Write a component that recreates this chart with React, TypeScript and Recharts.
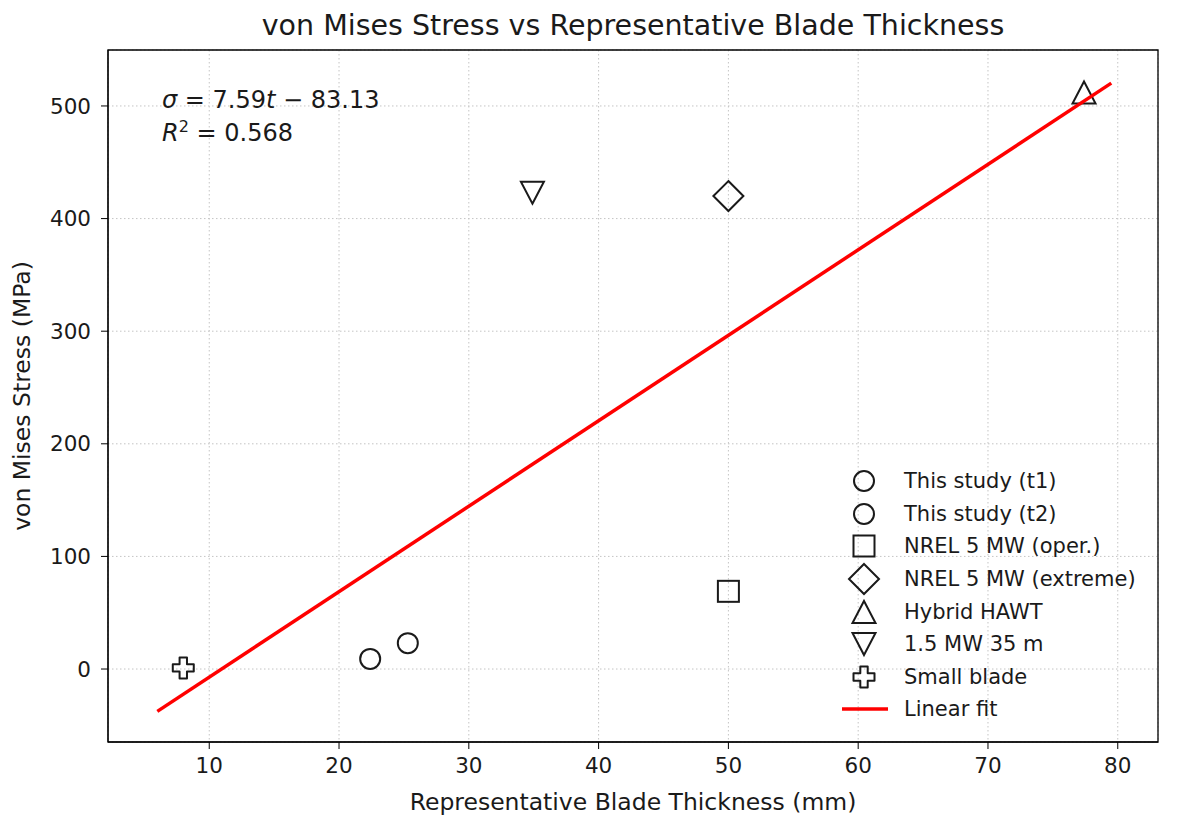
import React from 'react';
import { ScatterChart, Scatter, XAxis, YAxis, CartesianGrid, ReferenceArea, Legend } from 'recharts';

// thickness (mm) vs von Mises stress (MPa)
const studyT1 = [{ x: 22.4, y: 9 }];
const studyT2 = [{ x: 25.3, y: 23 }];
const nrelOper = [{ x: 50, y: 69 }];
const nrelExtreme = [{ x: 50, y: 420 }];
const hybridHawt = [{ x: 77.4, y: 512 }];
const mw15 = [{ x: 34.9, y: 423 }];
const smallBlade = [{ x: 8, y: 1 }];
const linearFit = [
  { x: 6, y: -37.6 },
  { x: 79.5, y: 520.3 },
];

const xTicks = [10, 20, 30, 40, 50, 60, 70, 80];
const yTicks = [0, 100, 200, 300, 400, 500];
const xDomain = [2.2, 83.1];
const yDomain = [-64.8, 549.7];

const FONT = '"DejaVu Sans", sans-serif';
const INK = '#1a1a1a';
const SW = 2;

type MarkerKind = 'circle' | 'square' | 'diamond' | 'triUp' | 'triDown' | 'plus';

const marker = (kind: MarkerKind, cx: number, cy: number) => {
  const common = { fill: 'none', stroke: INK, strokeWidth: SW };
  switch (kind) {
    case 'circle':
      return <circle cx={cx} cy={cy} r={10} {...common} />;
    case 'square':
      return <rect x={cx - 10.5} y={cy - 10.5} width={21} height={21} {...common} />;
    case 'diamond':
      return <polygon points={`${cx},${cy - 15} ${cx + 15},${cy} ${cx},${cy + 15} ${cx - 15},${cy}`} {...common} />;
    case 'triUp':
      return <polygon points={`${cx},${cy - 11} ${cx + 11.5},${cy + 11} ${cx - 11.5},${cy + 11}`} {...common} />;
    case 'triDown':
      return <polygon points={`${cx},${cy + 11} ${cx + 11.5},${cy - 11} ${cx - 11.5},${cy - 11}`} {...common} />;
    case 'plus': {
      const a = 3.7, b = 10.5;
      const pts = [
        [-a, -b], [a, -b], [a, -a], [b, -a], [b, a], [a, a],
        [a, b], [-a, b], [-a, a], [-b, a], [-b, -a], [-a, -a],
      ].map(([px, py]) => `${cx + px},${cy + py}`).join(' ');
      return <polygon points={pts} {...common} strokeLinejoin="round" />;
    }
  }
};

const shapeOf = (kind: MarkerKind) => (props: any) => marker(kind, props.cx, props.cy);

const legendItems: Array<{ label: string; kind: MarkerKind | 'line' }> = [
  { label: 'This study (t1)', kind: 'circle' },
  { label: 'This study (t2)', kind: 'circle' },
  { label: 'NREL 5 MW (oper.)', kind: 'square' },
  { label: 'NREL 5 MW (extreme)', kind: 'diamond' },
  { label: 'Hybrid HAWT', kind: 'triUp' },
  { label: '1.5 MW 35 m', kind: 'triDown' },
  { label: 'Small blade', kind: 'plus' },
  { label: 'Linear fit', kind: 'line' },
];

const LegendBox = () => (
  <div style={{ fontFamily: FONT, fontSize: 21, color: INK }}>
    {legendItems.map((it) => (
      <div key={it.label} style={{ display: 'flex', alignItems: 'center', height: 32.6 }}>
        <svg width={50} height={32} style={{ overflow: 'visible', flex: 'none' }}>
          {it.kind === 'line'
            ? <line x1={3} x2={49} y1={16} y2={16} stroke="red" strokeWidth={3.5} />
            : marker(it.kind, 25, 16)}
        </svg>
        <span style={{ marginLeft: 15, whiteSpace: 'nowrap' }}>{it.label}</span>
      </div>
    ))}
  </div>
);

const XLabel = ({ viewBox }: any) => (
  <text x={viewBox.x + viewBox.width / 2} y={810} textAnchor="middle" fontFamily={FONT} fontSize={23.5} fill={INK}>
    Representative Blade Thickness (mm)
  </text>
);

const YLabel = ({ viewBox }: any) => {
  const cy = viewBox.y + viewBox.height / 2;
  return (
    <text x={30} y={cy} transform={`rotate(-90, 30, ${cy})`} textAnchor="middle" fontFamily={FONT} fontSize={23.5} fill={INK}>
      von Mises Stress (MPa)
    </text>
  );
};

export default function App() {
  return (
    <div style={{ position: 'absolute', left: 0, top: 0, width: 1181, height: 825, background: '#fff' }}>
      <div style={{ position: 'absolute', left: 108, width: 1050, top: 9, textAlign: 'center', fontFamily: FONT, fontSize: 28.5, color: INK }}>
        von Mises Stress vs Representative Blade Thickness
      </div>
      <div style={{ position: 'absolute', left: 162, top: 84, fontFamily: FONT, fontSize: 24, color: INK, lineHeight: '33px', zIndex: 2 }}>
        <div><i>σ</i> = 7.59<i>t</i> − 83.13</div>
        <div><i>R</i><sup style={{ fontSize: 16, lineHeight: 0 }}>2</sup> = 0.568</div>
      </div>
      <ScatterChart width={1181} height={825} margin={{ top: 50, right: 23, bottom: 0, left: 0 }}>
        <CartesianGrid stroke="#c4c4c4" strokeDasharray="1.5 2.5" />
        <XAxis
          type="number"
          dataKey="x"
          domain={xDomain}
          ticks={xTicks}
          allowDataOverflow
          height={83}
          tickSize={7}
          tickMargin={9}
          axisLine={{ stroke: '#000' }}
          tickLine={{ stroke: '#000' }}
          tick={{ fill: INK, fontSize: 21.5, fontFamily: FONT }}
          label={<XLabel />}
        />
        <YAxis
          type="number"
          dataKey="y"
          domain={yDomain}
          ticks={yTicks}
          allowDataOverflow
          width={108}
          tickSize={7}
          tickMargin={10}
          axisLine={{ stroke: '#000' }}
          tickLine={{ stroke: '#000' }}
          tick={{ fill: INK, fontSize: 21.5, fontFamily: FONT }}
          label={<YLabel />}
        />
        <ReferenceArea x1={xDomain[0]} x2={xDomain[1]} y1={yDomain[0]} y2={yDomain[1]} fill="none" stroke="#000" strokeWidth={1.3} ifOverflow="visible" />
        <Scatter name="This study (t1)" data={studyT1} shape={shapeOf('circle')} isAnimationActive={false} />
        <Scatter name="This study (t2)" data={studyT2} shape={shapeOf('circle')} isAnimationActive={false} />
        <Scatter name="NREL 5 MW (oper.)" data={nrelOper} shape={shapeOf('square')} isAnimationActive={false} />
        <Scatter name="NREL 5 MW (extreme)" data={nrelExtreme} shape={shapeOf('diamond')} isAnimationActive={false} />
        <Scatter name="Hybrid HAWT" data={hybridHawt} shape={shapeOf('triUp')} isAnimationActive={false} />
        <Scatter name="1.5 MW 35 m" data={mw15} shape={shapeOf('triDown')} isAnimationActive={false} />
        <Scatter name="Small blade" data={smallBlade} shape={shapeOf('plus')} isAnimationActive={false} />
        <Scatter
          name="Linear fit"
          data={linearFit}
          line={{ stroke: 'red', strokeWidth: 3.5 }}
          shape={() => <g />}
          isAnimationActive={false}
        />
        <Legend
          layout="vertical"
          align="center"
          verticalAlign="middle"
          content={<LegendBox />}
          wrapperStyle={{ position: 'absolute', left: 839, top: 465, width: 320, bottom: 'auto', right: 'auto' }}
        />
      </ScatterChart>
    </div>
  );
}
